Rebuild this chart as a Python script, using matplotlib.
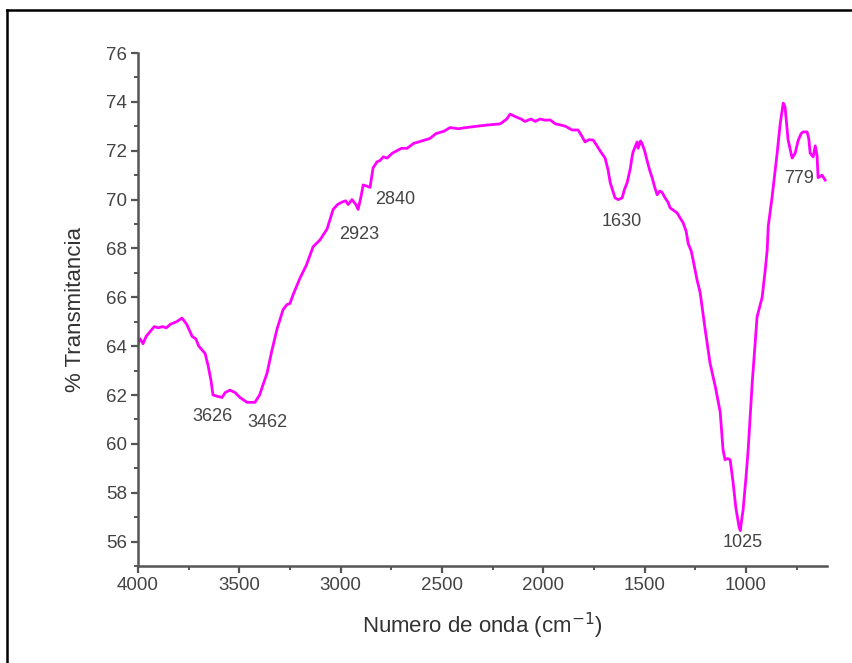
import matplotlib
matplotlib.use("Agg")
import matplotlib.pyplot as plt
from matplotlib.lines import Line2D
from matplotlib.ticker import MultipleLocator

wavenumber = [4000, 3990, 3975, 3960, 3940, 3920, 3900, 3880, 3860, 3840, 3810, 3783, 3760, 3733,
              3715, 3700, 3669, 3654, 3640, 3630, 3610, 3585, 3570, 3546, 3521, 3497, 3462, 3423,
              3400, 3388, 3363, 3340, 3314, 3284, 3265, 3250, 3235, 3200, 3170, 3136, 3120, 3102,
              3067, 3037, 3015, 2993, 2975, 2963, 2944, 2925, 2914, 2900, 2889, 2870, 2855, 2840,
              2820, 2805, 2790, 2771, 2745, 2722, 2700, 2672, 2640, 2600, 2560, 2530, 2490, 2460,
              2420, 2380, 2330, 2280, 2213, 2180, 2164, 2139, 2110, 2090, 2060, 2040, 2016, 1990,
              1966, 1940, 1917, 1890, 1858, 1828, 1810, 1794, 1775, 1754, 1735, 1720, 1695, 1680,
              1670, 1655, 1646, 1630, 1611, 1600, 1586, 1570, 1562, 1557, 1545, 1537, 1532, 1520,
              1513, 1500, 1488, 1475, 1463, 1450, 1438, 1425, 1414, 1399, 1385, 1374, 1355, 1340,
              1325, 1310, 1295, 1285, 1270, 1260, 1241, 1226, 1201, 1177, 1150, 1127, 1113, 1103,
              1090, 1078, 1063, 1050, 1034, 1028, 1014, 1000, 989, 969, 945, 920, 905, 895, 890,
              871, 846, 831, 816, 807, 792, 772, 757, 743, 728, 718, 698, 690, 683, 668, 658, 649,
              644, 624, 609]
transmittance = [64.1, 64.3, 64.1, 64.4, 64.6, 64.8, 64.75, 64.8, 64.75, 64.9, 65.0, 65.15, 64.9, 64.4,
                 64.3, 64.0, 63.7, 63.2, 62.6, 62.0, 61.95, 61.9, 62.1, 62.2, 62.1, 61.9, 61.7, 61.7,
                 62.0, 62.3, 62.9, 63.8, 64.7, 65.5, 65.7, 65.75, 66.1, 66.8, 67.3, 68.07, 68.2, 68.35,
                 68.8, 69.6, 69.8, 69.9, 69.95, 69.8, 70.0, 69.8, 69.6, 70.1, 70.6, 70.55, 70.5, 71.3,
                 71.55, 71.6, 71.75, 71.7, 71.9, 72.0, 72.1, 72.1, 72.3, 72.4, 72.5, 72.7, 72.8, 72.95,
                 72.9, 72.95, 73.0, 73.05, 73.1, 73.3, 73.5, 73.4, 73.3, 73.2, 73.3, 73.2, 73.3, 73.25,
                 73.26, 73.1, 73.06, 73.0, 72.85, 72.85, 72.6, 72.36, 72.45, 72.44, 72.2, 72.0, 71.7, 71.2,
                 70.7, 70.3, 70.07, 70.0, 70.07, 70.4, 70.7, 71.3, 71.75, 71.95, 72.2, 72.36, 72.1, 72.4,
                 72.3, 72.0, 71.6, 71.2, 70.9, 70.5, 70.2, 70.35, 70.3, 70.07, 69.9, 69.66, 69.55, 69.46,
                 69.25, 69.05, 68.7, 68.2, 67.9, 67.5, 66.7, 66.2, 64.67, 63.3, 62.3, 61.3, 59.76, 59.35,
                 59.4, 59.35, 58.4, 57.4, 56.6, 56.45, 57.3, 58.6, 59.76, 62.5, 65.2, 66.0, 67.1, 67.94, 68.9,
                 70.1, 71.9, 73.1, 73.95, 73.8, 72.44, 71.7, 71.9, 72.4, 72.7, 72.77, 72.77, 72.5, 71.9, 71.75,
                 72.2, 71.8, 70.9, 71.0, 70.8]

peak_labels = ["3626", "3462", "2923", "2840", "1630", "1025", "779"]
label_x = [3635, 3363, 2909, 2731, 1611, 1014, 737]
label_y = [61.1, 60.87, 68.56, 69.99, 69.1, 55.96, 70.85]

x_ticks = [4000, 3500, 3000, 2500, 2000, 1500, 1000]
y_ticks = [56, 58, 60, 62, 64, 66, 68, 70, 72, 74, 76]

fig = plt.figure(figsize=(8.53, 6.63), dpi=100)
ax = fig.add_axes([0.1618, 0.1463, 0.9695 - 0.1618, 0.920 - 0.1463])

ax.plot(wavenumber, transmittance, color="#FF00FF", lw=2.0, solid_joinstyle="round")

ax.set_xlim(4000, 600)
ax.set_ylim(55, 76)
ax.set_xticks(x_ticks)
ax.set_yticks(y_ticks)
ax.xaxis.set_minor_locator(MultipleLocator(250))
ax.yaxis.set_minor_locator(MultipleLocator(1))

axcol = "#555555"
for s in ["top", "right"]:
    ax.spines[s].set_visible(False)
for s in ["left", "bottom"]:
    ax.spines[s].set_color(axcol)
    ax.spines[s].set_linewidth(1.8)

ax.tick_params(which="major", direction="out", length=5, width=1.6, color=axcol,
               labelsize=13.5, labelcolor="#444444", pad=3)
ax.tick_params(which="minor", direction="out", length=3, width=1.4, color=axcol)
for lab in ax.get_xticklabels() + ax.get_yticklabels():
    lab.set_family("Liberation Sans")

ax.set_xlabel("Numero de onda (cm$^{-1}$)", fontsize=16, color="#333333",
              family="Liberation Sans", labelpad=12)
ax.set_ylabel("% Transmitancia", fontsize=16, color="#333333",
              family="Liberation Sans", labelpad=14)

for t, xx, yy in zip(peak_labels, label_x, label_y):
    ax.text(xx, yy, t, ha="center", va="center", fontsize=13, color="#444444",
            family="Liberation Sans")

# outer frame
fx = 7 / 853
fy = 1 - 10 / 663
fig.add_artist(Line2D([fx, fx], [0, fy], transform=fig.transFigure, color="black", lw=1.8))
fig.add_artist(Line2D([fx, 1.0], [fy, fy], transform=fig.transFigure, color="black", lw=1.8))

fig.savefig("out.png", dpi=100)
